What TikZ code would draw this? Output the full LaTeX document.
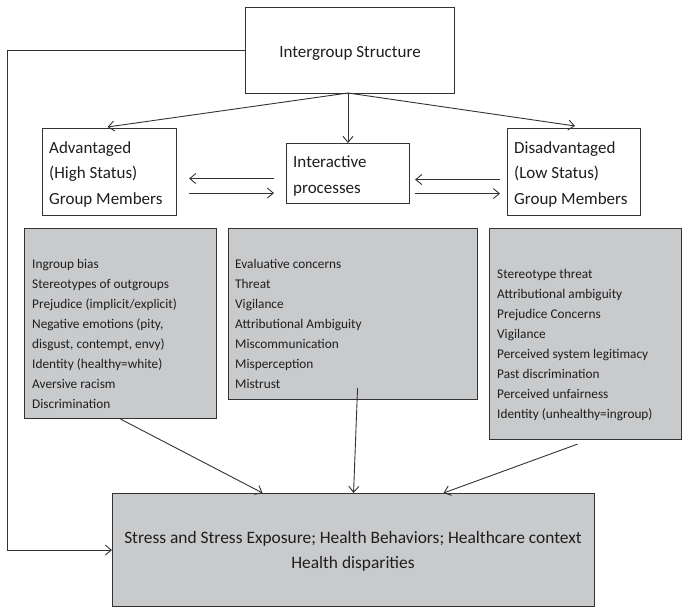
\documentclass[tikz,border=0pt]{standalone}
\usepackage{fontspec}
\setmainfont{Carlito}
\usetikzlibrary{arrows.meta,calc}
\definecolor{linecol}{HTML}{333333}
\definecolor{grayfill}{HTML}{C9CACC}
\definecolor{txtcol}{HTML}{1E1E1E}
\begin{document}
\begin{tikzpicture}[x=1pt,y=-1pt,
  box/.style={draw=linecol, line width=1.1pt, inner sep=0pt, anchor=north west},
  graybox/.style={box, fill=grayfill},
  hdr/.style={font=\fontsize{17}{25.5}\selectfont, text=txtcol, inner sep=0pt, anchor=north west, align=left},
  lst/.style={font=\fontsize{13.3}{20}\selectfont, text=txtcol, inner sep=0pt, anchor=north west, align=left},
  arr/.style={draw=linecol, line width=0.9pt, -{Straight Barb[length=6pt,width=10pt]}},
  ln/.style={draw=linecol, line width=0.9pt}]
\useasboundingbox[fill=white] (0,0) rectangle (688,613);

% top box
\node[box, minimum width=209pt, minimum height=86pt] (ig) at (245,7) {};
\node[font=\fontsize{17}{20}\selectfont, text=txtcol, inner sep=0pt, anchor=base] (igtxt) at (350,57) {Intergroup Structure};

% white boxes
\node[box, minimum width=134pt, minimum height=87pt] (adv) at (42,128) {};
\node[hdr] (advtxt) at (49,135) {\rule{0pt}{18pt}Advantaged\\(High Status)\\Group Members};

\node[box, minimum width=123pt, minimum height=60pt] (inter) at (286,143) {};
\node[hdr, font=\fontsize{17}{26}\selectfont] (intertxt) at (293,149) {\rule{0pt}{18pt}Interactive\\processes};

\node[box, minimum width=133pt, minimum height=87pt] (dis) at (507,128) {};
\node[hdr] (distxt) at (514,135) {\rule{0pt}{18pt}Disadvantaged\\(Low Status)\\Group Members};

% gray boxes
\node[graybox, minimum width=192pt, minimum height=190pt] (lg) at (24,228) {};
\node[lst] (lgtxt) at (32,253) {\rule{0pt}{15pt}Ingroup bias\\Stereotypes of outgroups\\Prejudice (implicit/explicit)\\Negative emotions (pity,\\disgust, contempt, envy)\\Identity (healthy=white)\\Aversive racism\\Discrimination};

\node[graybox, minimum width=249pt, minimum height=171pt] (mg) at (228,228) {};
\node[lst] (mgtxt) at (235,253) {\rule{0pt}{15pt}Evaluative concerns\\Threat\\Vigilance\\Attributional Ambiguity\\Miscommunication\\Misperception\\Mistrust};

\node[graybox, minimum width=192pt, minimum height=211pt] (rg) at (489,228) {};
\node[lst] (rgtxt) at (497,263) {\rule{0pt}{15pt}Stereotype threat\\Attributional ambiguity\\Prejudice Concerns\\Vigilance\\Perceived system legitimacy\\Past discrimination\\Perceived unfairness\\Identity (unhealthy=ingroup)};

% bottom box
\node[graybox, minimum width=482pt, minimum height=113pt] (bot) at (112,493) {};
\node[font=\fontsize{17.4}{25}\selectfont, text=txtcol, inner sep=0pt, anchor=north, align=center] (bottxt) at (353,524) {\rule{0pt}{19pt}Stress and Stress Exposure; Health Behaviors; Healthcare context\\Health disparities};

% connectors
\coordinate (apex) at (348,93);
\draw[arr] (apex) -- ($(adv.north)+(-2,-1)$);
\draw[arr] (apex) -- (apex |- inter.north);
\draw[arr] (apex) -- ($(dis.north)+(1,-2)$);

\draw[arr] ($(inter.west)+(-12,5)$) -- ($(adv.east)+(12,6.5)$);
\draw[arr] ($(adv.east)+(12,21)$) -- ($(inter.west)+(-12,19.5)$);
\draw[arr] ($(dis.west)+(-7,7.5)$) -- ($(inter.east)+(5,6)$);
\draw[arr] ($(inter.east)+(5,20)$) -- ($(dis.west)+(-7,21.5)$);

\draw[arr] (ig.west) -- ++(-238,0) |- (bot.west);

\draw[arr] (lg.south) -- ($(bot.north)+(-91,0)$);
\draw[arr] ($(mg.south)+(4.5,-12)$) -- (bot.north);
\draw[arr] ($(rg.south)+(-8,4)$) -- ($(bot.north)+(90,0)$);
\end{tikzpicture}
\end{document}
